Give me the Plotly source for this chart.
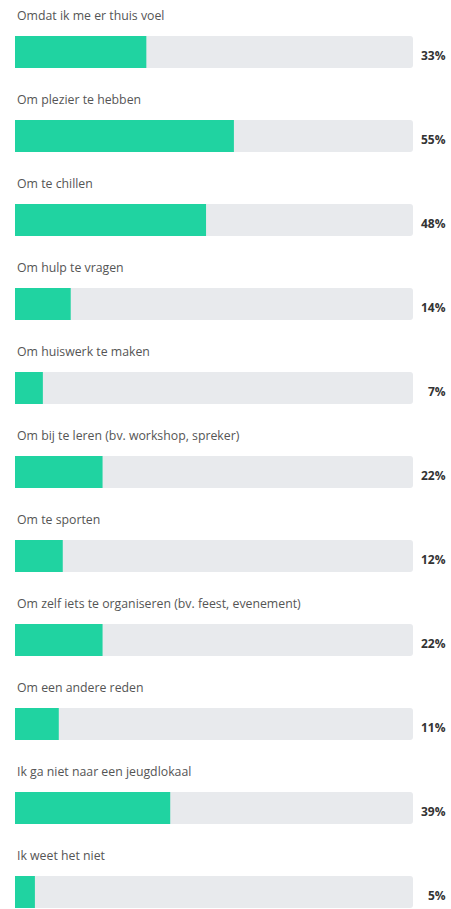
import plotly.graph_objects as go

categories = [
    "Omdat ik me er thuis voel",
    "Om plezier te hebben",
    "Om te chillen",
    "Om hulp te vragen",
    "Om huiswerk te maken",
    "Om bij te leren (bv. workshop, spreker)",
    "Om te sporten",
    "Om zelf iets te organiseren (bv. feest, evenement)",
    "Om een andere reden",
    "Ik ga niet naar een jeugdlokaal",
    "Ik weet het niet",
]
values = [33, 55, 48, 14, 7, 22, 12, 22, 11, 39, 5]
total = [100] * len(values)
pct_labels = [f"{v}%" for v in values]

W, H = 451, 909
left, right = 15, 413
row = 84
first_center = 52
idx = list(range(len(categories)))

y_top = -first_center / row
y_bot = (H - first_center) / row

fig = go.Figure()
fig.add_trace(go.Bar(x=total, y=idx, orientation="h", marker=dict(color="#E8EAED", line=dict(width=0)),
                     width=32 / row, hoverinfo="skip", showlegend=False))
fig.add_trace(go.Bar(x=values, y=idx, orientation="h", marker=dict(color="#20D3A1", line=dict(width=0)),
                     width=32 / row, hoverinfo="skip", showlegend=False))

font_family = "Open Sans, Noto Sans, sans-serif"
annotations = []
for i, (c, p) in enumerate(zip(categories, pct_labels)):
    annotations.append(dict(xref="paper", yref="y", x=0, y=i - 37 / row, text=c, showarrow=False,
                            xanchor="left", yanchor="middle",
                            font=dict(family=font_family, size=12.3, color="#555555")))
    annotations.append(dict(xref="paper", yref="y", x=(448 - left) / (right - left), y=i + 3 / row,
                            text=f"<b>{p}</b>", showarrow=False, xanchor="right", yanchor="middle",
                            font=dict(family=font_family, size=12, color="#333333")))

fig.update_layout(
    width=W, height=H,
    margin=dict(l=left, r=W - right, t=0, b=0, pad=0),
    barmode="overlay",
    barcornerradius=3,
    plot_bgcolor="white", paper_bgcolor="white",
    xaxis=dict(range=[0, 100], visible=False, fixedrange=True),
    yaxis=dict(range=[y_bot, y_top], visible=False, fixedrange=True),
    annotations=annotations,
    showlegend=False,
)

fig.write_html("out.html", config={"displayModeBar": False},
               post_script="document.body.style.margin='0';document.body.style.overflow='hidden';")
